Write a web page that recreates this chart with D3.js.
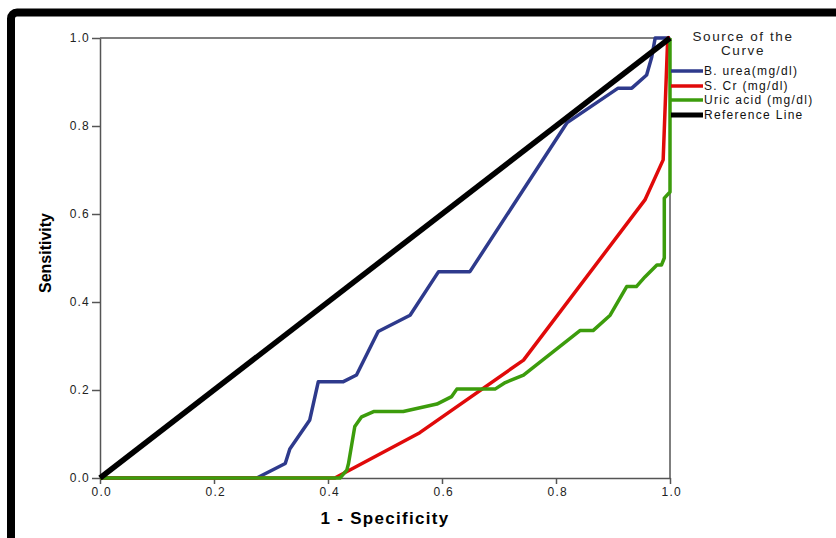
<!DOCTYPE html>
<html>
<head>
<meta charset="utf-8">
<script src="https://cdn.jsdelivr.net/npm/d3@7"></script>
<style>
  body { margin: 0; background: #fff; }
  svg { display: block; font-family: "Liberation Sans", Arial, sans-serif; }
</style>
</head>
<body>
<svg id="chart" width="836" height="538"></svg>
<script>
// ROC points (1 - specificity, sensitivity)
const fprUrea = [0, 0.275, 0.325, 0.333, 0.368, 0.383, 0.427, 0.450, 0.488, 0.544, 0.594, 0.649, 0.819, 0.909, 0.933, 0.959, 0.968, 0.974, 1.0];
const tprUrea = [0, 0, 0.033, 0.066, 0.132, 0.219, 0.219, 0.234, 0.333, 0.370, 0.469, 0.469, 0.807, 0.886, 0.886, 0.916, 0.957, 1.0, 1.0];

const fprCr = [0, 0.412, 0.561, 0.743, 0.956, 0.988, 0.996, 1.0];
const tprCr = [0, 0, 0.103, 0.268, 0.632, 0.723, 1.0, 1.0];

const fprUric = [0, 0.421, 0.433, 0.436, 0.447, 0.459, 0.480, 0.532, 0.591, 0.617, 0.626, 0.693, 0.711, 0.743, 0.842, 0.865, 0.895, 0.924, 0.941, 0.956, 0.977, 0.985, 0.99, 0.99, 1.0, 1.0];
const tprUric = [0, 0, 0.018, 0.033, 0.117, 0.139, 0.151, 0.151, 0.168, 0.185, 0.202, 0.202, 0.217, 0.234, 0.335, 0.335, 0.370, 0.435, 0.435, 0.457, 0.484, 0.484, 0.500, 0.636, 0.650, 1.0];

const fprRef = [0, 1];
const tprRef = [0, 1];

const tickValues = [0, 0.2, 0.4, 0.6, 0.8, 1.0];

const series = [
  { name: "B. urea(mg/dl)", x: fprUrea, y: tprUrea, color: "#2e3a8c", width: 3.5 },
  { name: "S. Cr (mg/dl)", x: fprCr, y: tprCr, color: "#e00a0a", width: 3.5 },
  { name: "Uric acid (mg/dl)", x: fprUric, y: tprUric, color: "#3c9c0c", width: 3.5 },
  { name: "Reference Line", x: fprRef, y: tprRef, color: "#000", width: 5.5 }
];

const svg = d3.select("#chart");

// outer black frame
svg.append("rect")
  .attr("x", 11).attr("y", 12.5)
  .attr("width", 900).attr("height", 600)
  .attr("rx", 6)
  .attr("fill", "none")
  .attr("stroke", "#000")
  .attr("stroke-width", 8);

const x = d3.scaleLinear().domain([0, 1]).range([100, 670]);
const y = d3.scaleLinear().domain([0, 1]).range([478, 38]);

const axisColor = "#555";

// frame top / right
svg.append("path")
  .attr("d", `M${x(0)},${y(1)}H${x(1)}V${y(0)}`)
  .attr("fill", "none").attr("stroke", axisColor).attr("stroke-width", 1.5);

const xAxis = svg.append("g")
  .attr("transform", `translate(0,${y(0)})`)
  .call(d3.axisBottom(x).tickValues(tickValues).tickFormat(d3.format(".1f")).tickSize(6).tickSizeOuter(0));
const yAxis = svg.append("g")
  .attr("transform", `translate(${x(0)},0)`)
  .call(d3.axisLeft(y).tickValues(tickValues).tickFormat(d3.format(".1f")).tickSize(8).tickSizeOuter(0));

[xAxis, yAxis].forEach(g => {
  g.select(".domain").attr("stroke", axisColor).attr("stroke-width", 1.5);
  g.selectAll(".tick line").attr("stroke", axisColor).attr("stroke-width", 1.5);
  g.selectAll(".tick text")
    .attr("fill", "#222")
    .style("font-size", "12px")
    .style("letter-spacing", "1.2px")
    .style("font-family", "'Liberation Sans', Arial, sans-serif");
});
xAxis.selectAll(".tick text").attr("y", 9).attr("dx", "0.1em");
yAxis.selectAll(".tick text").attr("x", -10);

// curves
const line = d3.line().x(d => x(d[0])).y(d => y(d[1]));
series.forEach(s => {
  svg.append("path")
    .datum(s.x.map((v, i) => [v, s.y[i]]))
    .attr("d", line)
    .attr("fill", "none")
    .attr("stroke", s.color)
    .attr("stroke-width", s.width)
    .attr("stroke-linejoin", "round");
});

// axis titles
svg.append("text")
  .attr("x", 385).attr("y", 524)
  .attr("text-anchor", "middle")
  .style("font-size", "17px").style("font-weight", "bold")
  .style("letter-spacing", "1.3px")
  .text("1 - Specificity");

svg.append("text")
  .attr("transform", "translate(51,253) rotate(-90)")
  .attr("text-anchor", "middle")
  .style("font-size", "16px").style("font-weight", "bold")
  .text("Sensitivity");

// legend
const legend = svg.append("g");
legend.append("text")
  .attr("x", 743).attr("y", 41)
  .attr("text-anchor", "middle")
  .style("font-size", "13.5px").style("letter-spacing", "1.6px").attr("fill", "#222")
  .text("Source of the");
legend.append("text")
  .attr("x", 743).attr("y", 55)
  .attr("text-anchor", "middle")
  .style("font-size", "13.5px").style("letter-spacing", "1.6px").attr("fill", "#222")
  .text("Curve");

const rowY = [71, 86, 100, 115];
series.forEach((s, i) => {
  legend.append("line")
    .attr("x1", 671).attr("x2", 703)
    .attr("y1", rowY[i]).attr("y2", rowY[i])
    .attr("stroke", s.color)
    .attr("stroke-width", s.width === 3.5 ? 3.5 : 5);
  legend.append("text")
    .attr("x", 704).attr("y", rowY[i])
    .attr("dy", "0.35em")
    .style("font-size", "12px").style("letter-spacing", "1.3px").attr("fill", "#111")
    .text(s.name);
});
</script>
</body>
</html>
